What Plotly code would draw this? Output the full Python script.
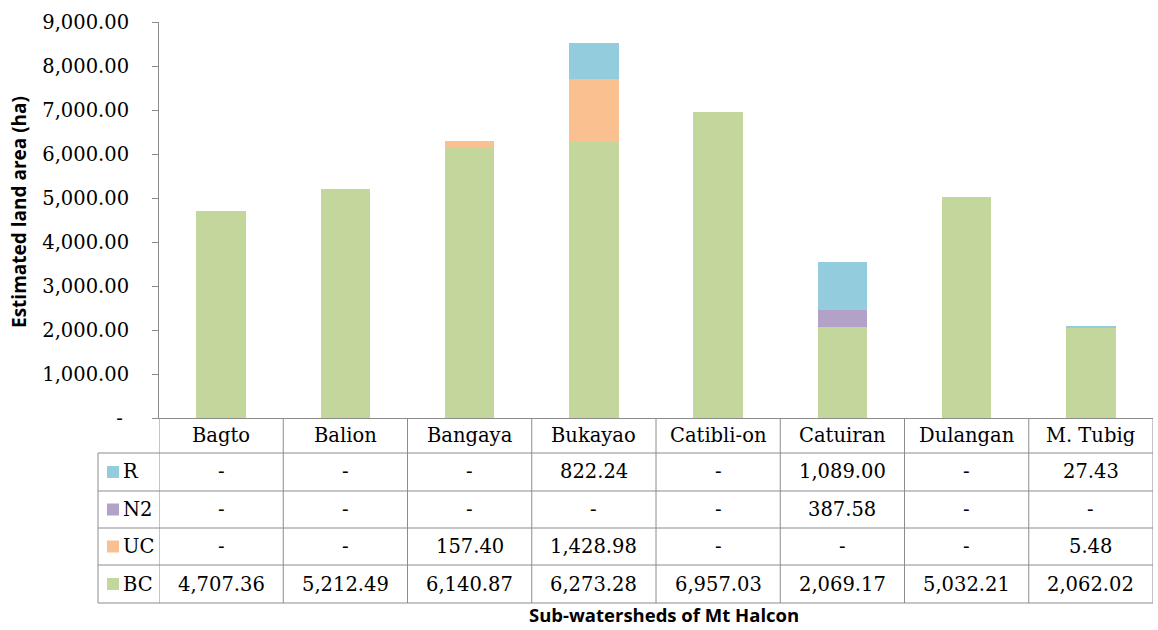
import plotly.graph_objects as go

# Sub-watershed land area by cover class (ha)
categories = ["Bagto", "Balion", "Bangaya", "Bukayao", "Catibli-on",
              "Catuiran", "Dulangan", "M. Tubig"]
series_names = ["R", "N2", "UC", "BC"]          # table row order (top to bottom)
r_vals = [0, 0, 0, 822.24, 0, 1089.00, 0, 27.43]
n2_vals = [0, 0, 0, 0, 0, 387.58, 0, 0]
uc_vals = [0, 0, 157.40, 1428.98, 0, 0, 0, 5.48]
bc_vals = [4707.36, 5212.49, 6140.87, 6273.28, 6957.03, 2069.17, 5032.21, 2062.02]
y_tickvals = [0, 1000, 2000, 3000, 4000, 5000, 6000, 7000, 8000, 9000]
y_ticktext = ["-\u00a0", "1,000.00", "2,000.00", "3,000.00", "4,000.00",
              "5,000.00", "6,000.00", "7,000.00", "8,000.00", "9,000.00"]

values = {"R": r_vals, "N2": n2_vals, "UC": uc_vals, "BC": bc_vals}
colors = {"R": "#93CDDD", "N2": "#B3A2C7", "UC": "#FAC090", "BC": "#C3D69B"}

W, H = 1158, 630
ML, MR, MT, MB = 159, 5, 22, 212
PLOT_H = H - MT - MB
PLOT_W = W - ML - MR
SERIF = "DejaVu Serif"
SANS = "Open Sans"
LINE = "#8C8C8C"
FS = 19.5


def py2paper(py):
    return (H - MB - py) / PLOT_H


def px2paper(px):
    return (px - ML) / PLOT_W


def fmt(v):
    return "-" if v == 0 else f"{v:,.2f}"


fig = go.Figure()
for name in ["BC", "UC", "N2", "R"]:
    fig.add_trace(go.Bar(x=categories, y=values[name], name=name,
                         marker=dict(color=colors[name], line=dict(width=0))))

shapes = []
annotations = []

# table grid rows (pixel y of boundaries)
header_top, header_bot = 418, 453
row_edges = [453, 491, 528, 565, 603]
leg_left = 98

# horizontal lines
for py in row_edges:
    shapes.append(dict(type="line", xref="paper", yref="paper",
                       x0=px2paper(leg_left), x1=1, y0=py2paper(py), y1=py2paper(py),
                       line=dict(color=LINE, width=1)))
# vertical lines at category boundaries
for i in range(len(categories) + 1):
    shapes.append(dict(type="line", xref="x", yref="paper",
                       x0=i - 0.5, x1=i - 0.5, y0=py2paper(header_top), y1=py2paper(603),
                       line=dict(color=LINE, width=1)))
shapes.append(dict(type="line", xref="paper", yref="paper",
                   x0=px2paper(leg_left), x1=px2paper(leg_left),
                   y0=py2paper(453), y1=py2paper(603),
                   line=dict(color=LINE, width=1)))

# header with category names
for c in categories:
    annotations.append(dict(x=c, xref="x", y=py2paper((header_top + header_bot) / 2),
                            yref="paper", text=c, showarrow=False,
                            font=dict(family=SERIF, size=FS, color="black"),
                            xanchor="center", yanchor="middle"))

# value rows with legend keys
for r, name in enumerate(series_names):
    yc = py2paper((row_edges[r] + row_edges[r + 1]) / 2)
    half = 6 / PLOT_H
    shapes.append(dict(type="rect", xref="paper", yref="paper",
                       x0=px2paper(107), x1=px2paper(119), y0=yc - half, y1=yc + half,
                       fillcolor=colors[name], line=dict(width=0)))
    annotations.append(dict(x=px2paper(121), xref="paper", y=yc, yref="paper",
                            text=name, showarrow=False, xanchor="left", yanchor="middle",
                            font=dict(family=SERIF, size=FS, color="black")))
    for c, v in zip(categories, values[name]):
        annotations.append(dict(x=c, xref="x", y=yc, yref="paper", text=fmt(v),
                                showarrow=False, xanchor="center", yanchor="middle",
                                font=dict(family=SERIF, size=FS, color="black")))

# axis titles
annotations.append(dict(x=px2paper(664), xref="paper", y=py2paper(629), yref="paper",
                        text="<b>Sub-watersheds of Mt Halcon</b>", showarrow=False,
                        xanchor="center", yanchor="bottom",
                        font=dict(family=SANS, size=18.5, color="black")))
annotations.append(dict(x=px2paper(19), xref="paper", y=py2paper(212), yref="paper",
                        text="<b>Estimated land area (ha)</b>", showarrow=False,
                        textangle=-90, xanchor="center", yanchor="middle",
                        font=dict(family=SANS, size=19, color="black")))

fig.update_layout(
    width=W, height=H,
    margin=dict(l=ML, r=MR, t=MT, b=MB),
    barmode="stack", bargap=0.6,
    plot_bgcolor="white", paper_bgcolor="white",
    showlegend=False,
    shapes=shapes, annotations=annotations,
    xaxis=dict(range=[-0.5, len(categories) - 0.5], showticklabels=False,
               showline=True, linecolor=LINE, linewidth=1, ticks="",
               showgrid=False, zeroline=False, fixedrange=True),
    yaxis=dict(range=[0, 9000], tickvals=y_tickvals, ticktext=y_ticktext,
               showline=True, linecolor=LINE, linewidth=1, ticks="outside",
               ticklen=6, tickcolor=LINE, ticklabelstandoff=19,
               tickfont=dict(family=SERIF, size=FS, color="black"),
               showgrid=False, zeroline=False, fixedrange=True),
)

fig.write_html("out.html")
